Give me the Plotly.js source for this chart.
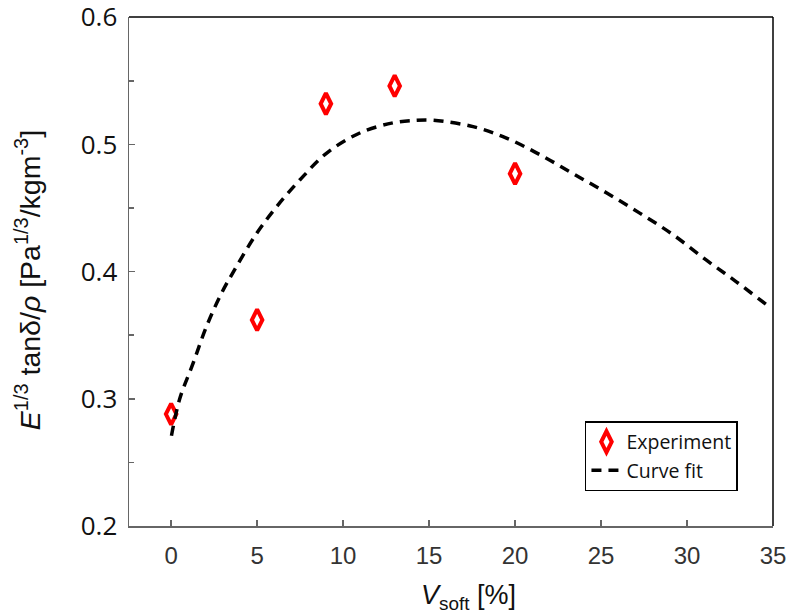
<!DOCTYPE html>
<html>
<head>
<meta charset="utf-8">
<script src="https://cdn.plot.ly/plotly-3.0.1.min.js"></script>
<style>html,body{margin:0;padding:0;background:#fff;}#chart{width:792px;height:616px;}</style>
</head>
<body>
<div id="chart"></div>
<script>
// Experimental data
const expX = [0, 5, 9, 13, 20];
const expY = [0.288, 0.362, 0.532, 0.546, 0.477];

// Curve fit
const fitX = [0.02, 0.5, 1.28, 2.06, 2.93, 3.8, 4.97, 6.13, 7.48, 9.03, 10.97, 12.9, 14.27, 15.24, 17.56, 19.5, 21.44, 23.38, 25.31, 27.25, 29.19, 31.13, 32.87, 34.62];
const fitY = [0.271, 0.300, 0.328, 0.357, 0.383, 0.404, 0.430, 0.451, 0.472, 0.493, 0.509, 0.517, 0.519, 0.519, 0.514, 0.505, 0.492, 0.477, 0.462, 0.446, 0.429, 0.409, 0.392, 0.374];

const xTicks = [0, 5, 10, 15, 20, 25, 30, 35];
const yTicks = [0.2, 0.3, 0.4, 0.5, 0.6];
const yMinorTicks = [0.25, 0.35, 0.45, 0.55];

const xTitle = '<i>V</i><sub>soft</sub> [%]';
const yTitle = '<i>E</i><sup>1/3</sup> tanδ/<i>ρ</i> [Pa<sup>1/3</sup>/kgm<sup>-3</sup>]';

const traces = [
  {
    x: expX, y: expY, name: 'Experiment', type: 'scatter', mode: 'markers',
    marker: {symbol: 'diamond-tall-open', size: 15, color: '#ff0000', line: {color: '#ff0000', width: 4}}
  },
  {
    x: fitX, y: fitY, name: 'Curve fit', type: 'scatter', mode: 'lines',
    line: {color: '#000000', width: 3.5, dash: '10px,7px', shape: 'spline'}
  }
];

const layout = {
  width: 792, height: 616,
  margin: {l: 129, r: 19, t: 17, b: 90},
  paper_bgcolor: '#ffffff', plot_bgcolor: '#ffffff',
  showlegend: true,
  legend: {
    x: 0.708, y: 0.206, xanchor: 'left', yanchor: 'top',
    bgcolor: '#ffffff', bordercolor: '#000000', borderwidth: 1.5,
    font: {family: 'Open Sans, sans-serif', size: 19.5, color: '#111111'},
    tracegroupgap: 0, itemwidth: 30
  },
  xaxis: {
    range: [-2.45, 35.0001], tickvals: xTicks, ticktext: xTicks.map(String),
    showgrid: false, zeroline: false, showline: true, linecolor: '#666666', linewidth: 1.5,
    ticks: 'inside', ticklen: 6, tickcolor: '#666666', tickwidth: 1.5,
    tickfont: {family: 'Liberation Sans, Arial, sans-serif', size: 24, color: '#333333'},
    ticklabelstandoff: 8, ticklabeloverflow: 'allow'
  },
  yaxis: {
    range: [0.2, 0.6002], tickvals: yTicks, ticktext: yTicks.map(v => v.toFixed(1)),
    showgrid: false, zeroline: false, showline: true, linecolor: '#666666', linewidth: 1.5,
    ticks: 'inside', ticklen: 6, tickcolor: '#666666', tickwidth: 1.5,
    minor: {tickvals: yMinorTicks, ticks: 'inside', ticklen: 5, tickcolor: '#666666', tickwidth: 1.5, showgrid: false},
    tickfont: {family: 'Open Sans, sans-serif', size: 26, color: '#111111'},
    ticklabelstandoff: 5, ticklabeloverflow: 'allow'
  },
  annotations: [
    {text: xTitle, xref: 'paper', yref: 'paper', x: 0.527, y: 0, yshift: -71, xanchor: 'center', yanchor: 'middle', showarrow: false,
     font: {family: 'Liberation Sans, Arial, sans-serif', size: 27, color: '#111111'}},
    {text: yTitle, xref: 'paper', yref: 'paper', x: 0, xshift: -101, y: 0.483, xanchor: 'center', yanchor: 'middle', textangle: -90, showarrow: false,
     font: {family: 'Liberation Sans, Arial, sans-serif', size: 28.5, color: '#111111'}}
  ],
  shapes: [
    {type: 'line', xref: 'paper', yref: 'paper', x0: 0, x1: 1, y0: 1, y1: 1, line: {color: '#000000', width: 1.5}},
    {type: 'line', xref: 'paper', yref: 'paper', x0: 1, x1: 1, y0: 0, y1: 1, line: {color: '#000000', width: 1.5}}
  ]
};

Plotly.newPlot('chart', traces, layout, {displayModeBar: false, staticPlot: true});
</script>
</body>
</html>
